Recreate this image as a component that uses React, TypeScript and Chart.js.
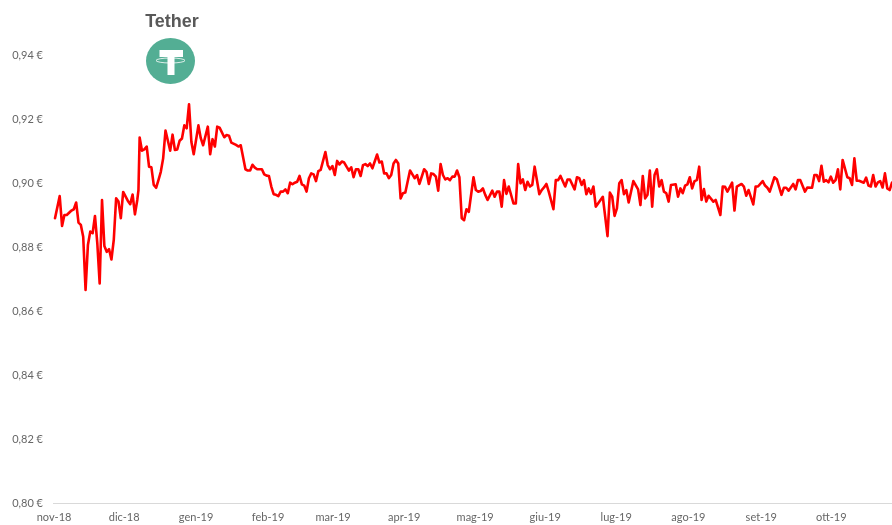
import React, { useEffect, useRef } from "react";
import { Chart, registerables } from "chart.js";

Chart.register(...registerables);

const monthLabels = ["nov-18", "dic-18", "gen-19", "feb-19", "mar-19", "apr-19", "mag-19", "giu-19", "lug-19", "ago-19", "set-19", "ott-19"];
const monthDays = [-0.4, 29.4, 60, 90.6, 118.3, 148.5, 178.7, 208.5, 238.7, 269.4, 300.4, 330.2];
const yTicks = [0.8, 0.82, 0.84, 0.86, 0.88, 0.9, 0.92, 0.94];

const daysA = [0,2,3,4,5,7,8,9,10,11,12,13,14,15,16,17,18,19,20,21,22,23,24,25,26,27,28,29,31,32,33,34,35,35.5,36,37,38,39,40,41,42,43,44,45,46,47,49,50,51,52,53,54,55,56,57,58,59,61,62,63,65,66,67,68,69,70,72,73,74,75,77,78,79,81,82,83,84,85,86];
const valuesA = [.8890,.8959,.8866,.8900,.8900,.8914,.8918,.8939,.8876,.8869,.8832,.8666,.8806,.8848,.8843,.8897,.8811,.8686,.8947,.8803,.8785,.8793,.8761,.8822,.8952,.8942,.8890,.8972,.8944,.8934,.8964,.8902,.8947,.8978,.9142,.9101,.9105,.9114,.9051,.9049,.8994,.8985,.9009,.9035,.9077,.9164,.9101,.9151,.9103,.9105,.9132,.9139,.9180,.9171,.9246,.9129,.9090,.9180,.9140,.9118,.9176,.9090,.9137,.9114,.9176,.9173,.9143,.9150,.9148,.9126,.9119,.9114,.9118,.9043,.9039,.9039,.9057,.9048,.9043];

const daysB = [88,89,90,91,92,93,94,95,96,97,98,99,100,101,102,103,104,105,106,107,108,109,110,111,112,113,115,116,117,118,119,120,121,122,123,124,125,126,127,128,129,130,131,132,133,134,135,137,138,139,140,141,142,143,144,145,146,147,148,149,151,152,153,154,155,157,158,159,160,161,162,163,164,165,166,167,168,169,170,171,172];
const valuesB = [.9043,.9027,.9023,.9022,.8989,.8965,.8963,.8959,.8973,.8973,.8980,.8968,.9001,.8996,.9001,.9004,.9022,.8996,.8992,.8973,.9015,.9030,.9027,.9006,.9037,.9041,.9097,.9056,.9043,.9053,.9025,.9069,.9058,.9067,.9064,.9051,.9039,.9049,.9018,.9043,.9043,.9022,.9056,.9059,.9053,.9061,.9046,.9089,.9064,.9067,.9030,.9030,.9015,.9025,.9061,.9072,.9061,.8952,.8968,.8970,.9039,.9027,.9015,.9025,.8997,.9043,.9035,.8997,.9030,.9028,.9020,.8976,.9059,.9025,.9011,.9015,.9009,.9020,.9020,.9039,.9018];

const daysC = [173,174,175,176,178,179,180,181,182,183,184,186,187,188,189,190,191,192,193,195,196,197,198,199,200,201,202,203,204,206,207,208,209,210,212,213,214,215,217,218,219,221,222,223,224,225,226,227,228,229,230,233,235,236,237,238,239,240,241,242,243,244,246,248,249,250,251,252,253,254,255,256,257,258,259,260,261,262,264];
const valuesC = [.8890,.8884,.8918,.8910,.9018,.8978,.8973,.8975,.8983,.8963,.8947,.8976,.8957,.8973,.8973,.8926,.9009,.8966,.8989,.8936,.8936,.9059,.8999,.9011,.8978,.9004,.8989,.8994,.9051,.8965,.8978,.8986,.8997,.8973,.8918,.9009,.9009,.9022,.8989,.9011,.9011,.8980,.9018,.9015,.8994,.9009,.8965,.8983,.8966,.8989,.8926,.8957,.8834,.8970,.8957,.8897,.8921,.8999,.9009,.8965,.8978,.8939,.9006,.8980,.8931,.9022,.8952,.8963,.9039,.8926,.9025,.9043,.8989,.9009,.8973,.8968,.8942,.8994,.8996];

const daysD = [265,266,267,268,269,270,271,272,273,274,275,276,277,278,280,281,283,284,285,286,288,289,290,292,293,294,295,297,298,299,301,302,303,304,306,307,309,310,311,312,314,315,316,317,319,320,322,323,324,325,326,327,328,329,330,331,332,333,334,335,337,338,339,340,341,342,344,345,346,347,348,349,350,351,352,353,354,355,356];
const valuesD = [.8957,.8983,.8968,.8992,.8996,.9018,.8983,.9006,.9009,.9051,.8947,.8981,.8942,.8960,.8942,.8947,.8900,.8989,.8988,.8973,.9001,.8914,.8989,.8997,.8989,.8960,.8978,.8933,.8989,.8989,.9006,.8992,.8985,.8973,.9018,.9012,.8963,.8985,.8985,.8976,.8997,.8980,.9009,.9009,.8973,.8986,.8985,.9025,.9025,.9006,.9054,.9004,.9009,.9002,.9020,.9001,.9009,.9043,.8980,.9072,.9018,.9015,.8994,.9077,.9007,.9007,.9001,.9017,.8992,.8989,.9025,.8989,.9002,.9006,.8986,.9030,.8983,.8978,.9001];

const days = [...daysA, ...daysB, ...daysC, ...daysD];
const values = [...valuesA, ...valuesB, ...valuesC, ...valuesD];

const GREY = "#666666";

const headerPlugin = {
  id: "header",
  afterDraw(chart: any) {
    const c = chart.ctx;
    c.save();
    c.fillStyle = "#595959";
    c.font = 'bold 18px "Liberation Sans", Arial, sans-serif';
    c.textAlign = "center";
    c.textBaseline = "middle";
    c.fillText("Tether", 172, 22);
    const cx = 170.5, cy = 61;
    c.fillStyle = "#53AE94";
    c.beginPath();
    c.ellipse(cx, cy, 24.5, 23, 0, 0, Math.PI * 2);
    c.fill();
    c.fillStyle = "#ffffff";
    c.fillRect(159.5, 50, 23.5, 7);
    c.fillRect(167.5, 57, 7, 18);
    c.strokeStyle = "#ffffff";
    c.lineWidth = 0.8;
    c.beginPath();
    c.ellipse(170.5, 60.5, 14.5, 2.5, 0, 0, Math.PI * 2);
    c.stroke();
    c.restore();
  },
};

export default function App() {
  const ref = useRef<HTMLCanvasElement>(null);
  useEffect(() => {
    const chart = new Chart(ref.current!, {
      type: "line",
      data: {
        datasets: [
          {
            label: "Tether",
            data: days.map((d, i) => ({ x: d, y: values[i] })),
            borderColor: "#FF0000",
            borderWidth: 2.6,
            borderJoinStyle: "round",
            borderCapStyle: "round",
            pointRadius: 0,
            tension: 0,
            fill: false,
          },
        ],
      },
      options: {
        responsive: false,
        animation: false,
        layout: { padding: { top: 55, left: 0, right: 0, bottom: 0 } },
        plugins: { legend: { display: false }, tooltip: { enabled: false }, title: { display: false } },
        scales: {
          x: {
            type: "linear",
            min: -0.85,
            max: 356,
            grid: { display: false, drawTicks: false },
            border: { display: true, color: "#D9D9D9", width: 1 },
            afterBuildTicks(axis: any) {
              axis.ticks = monthDays.map((v) => ({ value: v }));
            },
            afterFit(axis: any) {
              axis.height = 22;
            },
            ticks: {
              autoSkip: false,
              maxRotation: 0,
              minRotation: 0,
              padding: 8,
              color: GREY,
              font: { family: "Lato", size: 11 },
              callback(v: any) {
                const i = monthDays.indexOf(v);
                return i >= 0 ? monthLabels[i] : "";
              },
            },
          },
          y: {
            min: 0.8,
            max: 0.94,
            grid: { display: false, drawTicks: false },
            border: { display: false },
            afterBuildTicks(axis: any) {
              axis.ticks = yTicks.map((v) => ({ value: v }));
            },
            afterFit(axis: any) {
              axis.width = 53;
            },
            ticks: {
              padding: 10,
              color: GREY,
              font: { family: "Lato", size: 11 },
              callback(v: any) {
                return Number(v).toFixed(2).replace(".", ",") + " €";
              },
            },
          },
        },
      },
      plugins: [headerPlugin],
    } as any);
    return () => chart.destroy();
  }, []);
  return (
    <canvas
      ref={ref}
      width={892}
      height={525}
      style={{ position: "absolute", left: 0, top: 0, width: 892, height: 525 }}
    />
  );
}
